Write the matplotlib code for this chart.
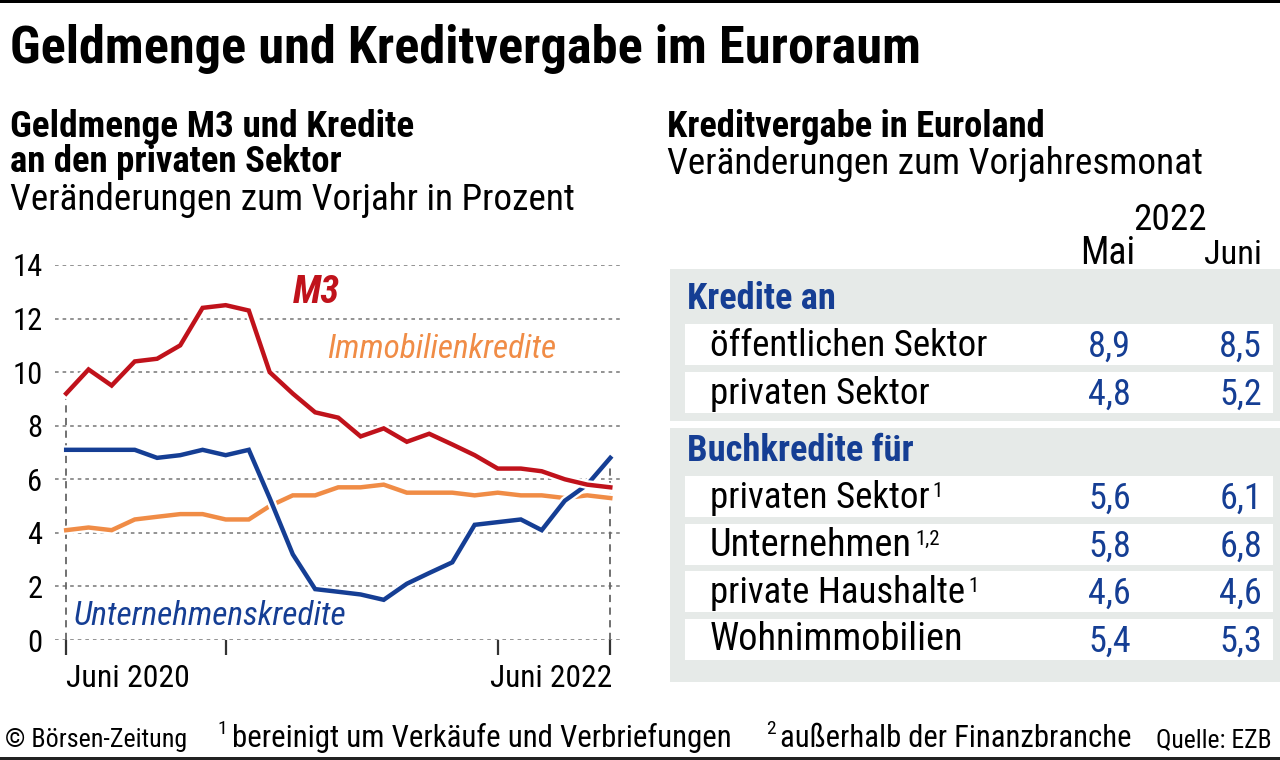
import matplotlib
matplotlib.use("Agg")
import matplotlib.pyplot as plt
import matplotlib.patheffects as pe
from matplotlib import font_manager
import pandas as pd

# --- data -------------------------------------------------------------
months = pd.date_range("2020-06-01", periods=25, freq="MS")
m3 = [9.2, 10.1, 9.5, 10.4, 10.5, 11.0, 12.4, 12.5, 12.3, 10.0, 9.2, 8.5, 8.3,
      7.6, 7.9, 7.4, 7.7, 7.3, 6.9, 6.4, 6.4, 6.3, 6.0, 5.8, 5.7]
unternehmen = [7.1, 7.1, 7.1, 7.1, 6.8, 6.9, 7.1, 6.9, 7.1, 5.3, 3.2, 1.9, 1.8,
               1.7, 1.5, 2.1, 2.5, 2.9, 4.3, 4.4, 4.5, 4.1, 5.2, 5.8, 6.8]
immobilien = [4.1, 4.2, 4.1, 4.5, 4.6, 4.7, 4.7, 4.5, 4.5, 5.0, 5.4, 5.4, 5.7,
              5.7, 5.8, 5.5, 5.5, 5.5, 5.4, 5.5, 5.4, 5.4, 5.3, 5.4, 5.3]
y_ticks = [0, 2, 4, 6, 8, 10, 12, 14]
x_marks = ["2020-06-01", "2021-01-01", "2022-01-01", "2022-06-01"]

sec1_title = "Kredite an"
sec1_rows = ["öffentlichen Sektor", "privaten Sektor"]
sec1_sup = ["", ""]
sec1_mai = ["8,9", "4,8"]
sec1_juni = ["8,5", "5,2"]
sec2_title = "Buchkredite für"
sec2_rows = ["privaten Sektor", "Unternehmen", "private Haushalte", "Wohnimmobilien"]
sec2_sup = ["1", "1,2", "1", ""]
sec2_mai = ["5,6", "5,8", "4,6", "5,4"]
sec2_juni = ["6,1", "6,8", "4,6", "5,3"]

RED = "#c0121b"
BLUE = "#153e94"
ORANGE = "#f08c46"
BOXBG = "#e6eae8"
W, H = 1280, 760

names = {f.name for f in font_manager.fontManager.ttflist}
FONT = "Roboto"
for cand in ["Roboto Condensed", "Liberation Sans Narrow", "Open Sans Condensed"]:
    if cand in names:
        FONT = cand
        break
plt.rcParams["font.family"] = [FONT, "DejaVu Sans"]

fig = plt.figure(figsize=(12.8, 7.6), dpi=100)
renderer = fig.canvas.get_renderer()


def ftext(x, y, s, w=None, **kw):
    # text in pixel coords (y from top); w = target width in px from the reference
    t = fig.text(x / W, 1 - y / H, s, **kw)
    if w:
        cur = t.get_window_extent(renderer).width
        t.set_fontsize(t.get_fontsize() * w / cur)
    return t


def sup(t, s, size=14, dx=3, dy=13):
    # superscript right after a text
    bb = t.get_window_extent(renderer)
    ftext(bb.x1 + dx, H - bb.y0 - dy - 6, s, fontsize=size, va="baseline")


def frect(x0, y0, x1, y1, color):
    fig.patches.append(plt.Rectangle((x0 / W, 1 - y1 / H), (x1 - x0) / W, (y1 - y0) / H,
                                     transform=fig.transFigure, color=color, lw=0, zorder=0))


# top / bottom rules
frect(0, 0, W, 3, "black")
frect(0, 757, W, 760, "#222222")

# titles
ftext(10, 63, "Geldmenge und Kreditvergabe im Euroraum", w=910, fontsize=34, fontweight="bold", va="baseline")
ftext(10, 137, "Geldmenge M3 und Kredite", w=404, fontsize=26, fontweight="bold", va="baseline")
ftext(10, 172, "an den privaten Sektor", w=332, fontsize=26, fontweight="bold", va="baseline")
ftext(10, 210, "Veränderungen zum Vorjahr in Prozent", w=565, fontsize=26, va="baseline")
ftext(667, 137, "Kreditvergabe in Euroland", w=379, fontsize=26, fontweight="bold", va="baseline")
ftext(667, 174, "Veränderungen zum Vorjahresmonat", w=537, fontsize=26, va="baseline")

# --- line chart -------------------------------------------------------
ax = fig.add_axes([55 / W, 1 - 640 / H, 565 / W, 375 / H])
for s in ax.spines.values():
    s.set_visible(False)
ax.set_ylim(0, 14)
ax.set_xlim(pd.Timestamp("2020-05-17"), pd.Timestamp("2022-06-14"))
ax.set_yticks(y_ticks)
ax.set_yticklabels([str(v) for v in y_ticks])
ax.tick_params(axis="y", length=0, pad=9, labelsize=22)
ax.grid(axis="y", color="#8a8a8a", linestyle=(0, (2, 2.2)), linewidth=1.3)
ax.set_axisbelow(True)
ax.set_xticks(pd.to_datetime(x_marks))
ax.set_xticklabels([])
ax.tick_params(axis="x", length=11, width=1.6, color="#333333", direction="out")

ax.plot([months[0], months[0]], [0, m3[0]], color="#666666", lw=1.3, ls=(0, (4, 3)), zorder=1)
ax.plot([months[-1], months[-1]], [0, unternehmen[-1]], color="#666666", lw=1.3, ls=(0, (4, 3)), zorder=1)

halo = [pe.withStroke(linewidth=6.5, foreground="white")]
for vals, col, z in [(immobilien, ORANGE, 3), (unternehmen, BLUE, 4), (m3, RED, 5)]:
    ax.plot(months, vals, color=col, lw=3.2, zorder=z, path_effects=halo, clip_on=False,
            solid_joinstyle="miter")

ftext(316, 303, "M3", w=47, fontsize=25, color=RED, fontstyle="italic", fontweight="bold",
      ha="center", va="baseline")
ftext(442, 358, "Immobilienkredite", w=230, fontsize=23, color=ORANGE, fontstyle="italic",
      ha="center", va="baseline")
ftext(210, 625, "Unternehmenskredite", w=273, fontsize=23, color=BLUE, fontstyle="italic",
      ha="center", va="baseline")

ftext(66, 687, "Juni 2020", w=124, fontsize=22, ha="left", va="baseline")
ftext(612, 687, "Juni 2022", w=122, fontsize=22, ha="right", va="baseline")

# --- table ------------------------------------------------------------
ftext(1170, 230, "2022", w=74, fontsize=25, ha="center", va="baseline")
ftext(1135, 264, "Mai", w=55, fontsize=25, ha="right", va="baseline")
ftext(1262, 264, "Juni", w=58, fontsize=25, ha="right", va="baseline")

frect(670, 269, W, 421, BOXBG)
frect(670, 428, W, 682, BOXBG)

row_w = {"öffentlichen Sektor": 278, "privaten Sektor": 221, "Unternehmen": 202,
         "private Haushalte": 256, "Wohnimmobilien": 254}
title_w = {"Kredite an": 149, "Buchkredite für": 227}


def section(top, title, rows, sups, mai, juni):
    ftext(687, top + 40, title, w=title_w[title], fontsize=26, fontweight="bold", color=BLUE,
          va="baseline")
    for i, (lab, sp, a, b) in enumerate(zip(rows, sups, mai, juni)):
        r0 = top + 55 + i * 47.5
        frect(685, r0, 1273, r0 + 41, "white")
        t = ftext(710, r0 + 32, lab, w=row_w[lab], fontsize=25, va="baseline")
        if sp:
            sup(t, sp, size=15, dx=3, dy=13)
        ftext(1131, r0 + 33, a, w=43, fontsize=25, color=BLUE, ha="right", va="baseline")
        ftext(1262, r0 + 33, b, w=43, fontsize=25, color=BLUE, ha="right", va="baseline")


section(269, sec1_title, sec1_rows, sec1_sup, sec1_mai, sec1_juni)
section(421, sec2_title, sec2_rows, sec2_sup, sec2_mai, sec2_juni)

# --- footer -----------------------------------------------------------
ftext(5, 747, "© Börsen-Zeitung", w=182, fontsize=19, va="baseline")
ftext(217, 734, "1", fontsize=14, va="baseline")
ftext(232, 747, "bereinigt um Verkäufe und Verbriefungen", w=499, fontsize=20, va="baseline")
ftext(766, 734, "2", fontsize=14, va="baseline")
ftext(780, 747, "außerhalb der Finanzbranche", w=350, fontsize=20, va="baseline")
ftext(1272, 747, "Quelle: EZB", w=115, fontsize=18, ha="right", va="baseline")

fig.savefig("out.png", dpi=100, facecolor="white")
